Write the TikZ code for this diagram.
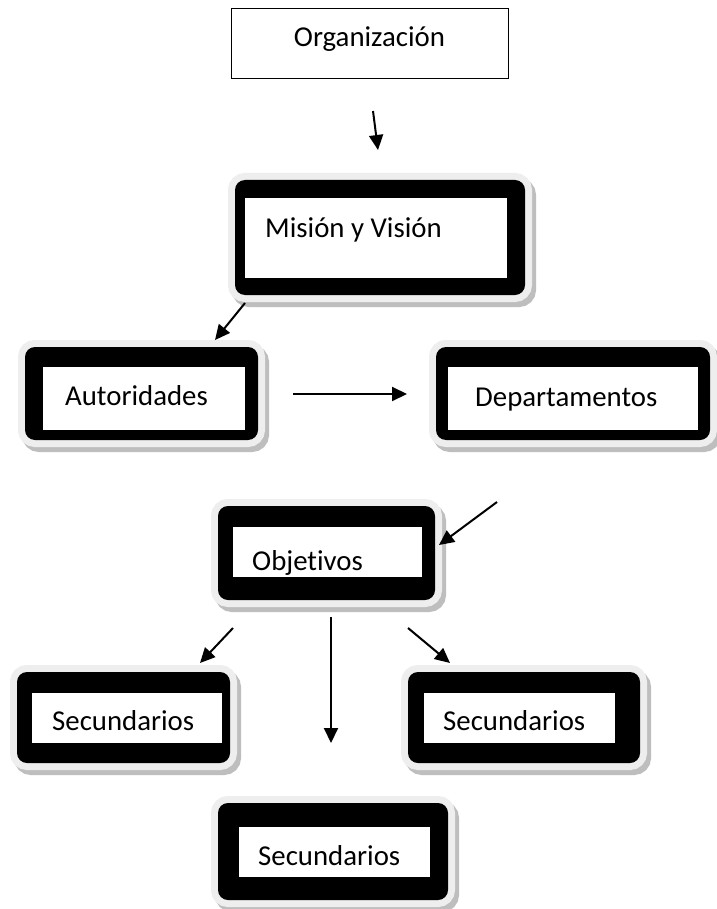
\documentclass[tikz,border=0pt]{standalone}
\usepackage{fontspec}
\setmainfont{Carlito}[Ligatures=NoCommon]
\usetikzlibrary{positioning,arrows.meta}
\definecolor{glowgray}{HTML}{EEEEEE}
\definecolor{shadegray}{HTML}{BEBEBE}
\newcommand{\boxfont}{\fontsize{28.8pt}{34pt}\selectfont}

\begin{document}
\begin{tikzpicture}[x=1pt,y=-1pt,
	fatbox/.style={fill=black, rounded corners=10pt, inner sep=0pt,
		preaction={draw=shadegray, line width=14pt, transform canvas={shift={(4pt,-5pt)}}},
		preaction={draw=glowgray, line width=14pt}},
	pane/.style={fill=white, inner sep=0pt},
	txt/.style={anchor=base west, inner sep=0pt, font=\boxfont},
	arr/.style={-{Triangle[length=15pt,width=14pt]}, line width=2pt}]
	\useasboundingbox[fill=white] (0,0) rectangle (716,909);

	% plain box on top
	\node[draw, line width=0.9pt, minimum width=277pt, minimum height=70pt] (org) at (369.5,43) {};
	\node[anchor=base, inner sep=0pt, font=\boxfont] (orgtxt) at (369.5,47) {Organización};

	% thick boxes
	\node[fatbox, minimum width=290pt, minimum height=115pt] (mision) at (380,237.5) {};
	\node[pane, minimum width=262pt, minimum height=80pt] (misionin) at (376,238) {};
	\node[txt] (misiontxt) at (265,237) {Misión y Visión};

	\node[fatbox, minimum width=233pt, minimum height=93pt] (aut) at (141.5,393.5) {};
	\node[pane, minimum width=202pt, minimum height=63pt] (autin) at (144,398.5) {};
	\node[txt] (auttxt) at (65,405) {Autoridades};

	\node[fatbox, minimum width=274pt, minimum height=93pt] (dep) at (573,393.5) {};
	\node[pane, minimum width=250pt, minimum height=63pt] (depin) at (573,398.5) {};
	\node[txt] (deptxt) at (475,406) {Departamentos};

	\node[fatbox, minimum width=217pt, minimum height=94pt] (obj) at (326.5,553) {};
	\node[pane, minimum width=189pt, minimum height=50pt] (objin) at (327.5,552) {};
	\begin{scope}
		\clip (objin.north west) rectangle (objin.south east);
		\node[txt] (objtxt) at (252,570) {Objetivos};
	\end{scope}

	\node[fatbox, minimum width=213pt, minimum height=91pt] (secl) at (123.5,717.5) {};
	\node[pane, minimum width=190pt, minimum height=50pt] (seclin) at (127,718) {};
	\node[txt] (secltxt) at (52,730) {Secundarios};

	\node[fatbox, minimum width=232pt, minimum height=91pt] (secr) at (524,717.5) {};
	\node[pane, minimum width=191pt, minimum height=50pt] (secrin) at (519.5,718) {};
	\node[txt] (secrtxt) at (443,730) {Secundarios};

	\node[fatbox, minimum width=230pt, minimum height=97pt] (secb) at (333,851.5) {};
	\node[pane, minimum width=191pt, minimum height=50pt] (secbin) at (334.5,852) {};
	\node[txt] (secbtxt) at (258,865) {Secundarios};

	% loose arrows
	\coordinate (a1s) at (373,111);  \coordinate (a1e) at (378,150);
	\coordinate (a2s) at (245,303);  \coordinate (a2e) at (215,340);
	\coordinate (a3s) at (293,394);  \coordinate (a3e) at (407,394);
	\coordinate (a4s) at (497,502);  \coordinate (a4e) at (439,545);
	\coordinate (a5s) at (233,628);  \coordinate (a5e) at (200,663);
	\coordinate (a6s) at (331,617);  \coordinate (a6e) at (331,743);
	\coordinate (a7s) at (408,628);  \coordinate (a7e) at (450,663);
	\draw[arr] (a1s) -- (a1e);
	\draw[arr] (a2s) -- (a2e);
	\draw[arr] (a3s) -- (a3e);
	\draw[arr] (a4s) -- (a4e);
	\draw[arr] (a5s) -- (a5e);
	\draw[arr] (a6s) -- (a6e);
	\draw[arr] (a7s) -- (a7e);
\end{tikzpicture}
\end{document}
